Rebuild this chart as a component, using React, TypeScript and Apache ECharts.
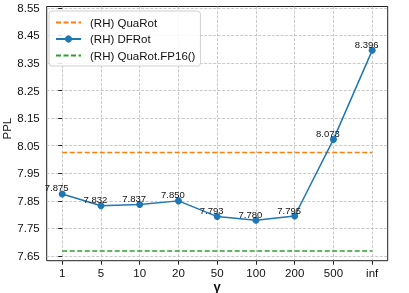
import React, { useEffect, useRef } from "react";
import * as echarts from "echarts";

const categories = ["1", "5", "10", "20", "50", "100", "200", "500", "inf"];
const dfrotValues = [7.875, 7.832, 7.837, 7.85, 7.793, 7.78, 7.795, 8.073, 8.396];
const quarotValue = 8.025;
const quarotFp16Value = 7.668;
const yTicks = [7.65, 7.75, 7.85, 7.95, 8.05, 8.15, 8.25, 8.35, 8.45, 8.55];
const yMin = 7.633;
const yMax = 8.555;
const xPad = 0.4;

const FONT = "'Liberation Sans', Arial, Helvetica, sans-serif";

export default function App() {
  const ref = useRef<HTMLDivElement>(null);
  useEffect(() => {
    if (!ref.current) return;
    const chart = echarts.init(ref.current, undefined, { renderer: "svg" });
    const xIdx = categories.map((_, i) => i);
    const gridLine = { show: true, lineStyle: { color: "#bdbdbd", type: [3, 1.5], width: 0.8 } };
    const hiddenSymbol = { color: "rgba(0,0,0,0)", borderColor: "rgba(0,0,0,0)", borderWidth: 0 };
    chart.setOption({
      animation: false,
      textStyle: { fontFamily: FONT },
      grid: {
        left: 46.7,
        right: 21.3,
        top: 6.5,
        bottom: 32.3,
        outerBoundsMode: "none",
        containLabel: false,
        show: true,
        borderColor: "#222",
        borderWidth: 1,
        backgroundColor: "transparent",
      },
      legend: {
        orient: "vertical",
        left: 49,
        top: 11,
        padding: [5.5, 5, 4.5, 6],
        itemWidth: 25,
        itemHeight: 9,
        itemGap: 4.5,
        backgroundColor: "rgba(255,255,255,0.85)",
        borderColor: "#d0d0d0",
        borderWidth: 1,
        borderRadius: 3,
        textStyle: { fontSize: 11.5, color: "#111", fontFamily: FONT, padding: [0, 0, 0, 4] },
        data: [
          { name: "(RH) QuaRot", itemStyle: hiddenSymbol },
          { name: "(RH) DFRot" },
          { name: "(RH) QuaRot.FP16()", itemStyle: hiddenSymbol },
        ],
      },
      xAxis: {
        type: "value",
        min: -xPad,
        max: categories.length - 1 + xPad,
        name: "γ",
        nameLocation: "middle",
        nameGap: 19,
        nameMoveOverlap: false,
        nameTextStyle: { fontSize: 13, fontWeight: "bold", color: "#111", fontFamily: FONT },
        axisLine: { show: false },
        axisTick: { show: true, length: 4, lineStyle: { color: "#222" }, customValues: xIdx },
        axisLabel: {
          customValues: xIdx,
          fontSize: 11.5,
          color: "#111",
          margin: 6,
          fontFamily: FONT,
          formatter: (v: number) => categories[Math.round(v)] ?? "",
        },
        splitLine: gridLine,
      },
      yAxis: {
        type: "value",
        min: yMin,
        max: yMax,
        name: "PPL",
        nameLocation: "middle",
        nameGap: 34,
        nameMoveOverlap: false,
        nameTextStyle: { fontSize: 11.5, color: "#111", fontFamily: FONT, padding: [0, 0, 0, 10] },
        axisLine: { show: false },
        axisTick: { show: true, length: 4, lineStyle: { color: "#222" }, customValues: yTicks },
        axisLabel: {
          customValues: yTicks,
          fontSize: 11.5,
          color: "#111",
          margin: 7,
          fontFamily: FONT,
          formatter: (v: number) => v.toFixed(2),
        },
        splitLine: gridLine,
      },
      series: [
        {
          name: "(RH) QuaRot",
          type: "line",
          data: xIdx.map((i) => [i, quarotValue]),
          showSymbol: false,
          symbol: "none",
          lineStyle: { color: "#ff7f0e", width: 1.5, type: [5, 2.5] },
          itemStyle: { color: "#ff7f0e" },
          z: 3,
        },
        {
          name: "(RH) DFRot",
          type: "line",
          data: dfrotValues.map((v, i) => [i, v]),
          symbol: "circle",
          symbolSize: 7,
          lineStyle: { color: "#1f77b4", width: 1.5 },
          itemStyle: { color: "#1f77b4" },
          label: {
            show: true,
            position: "inside",
            offset: [-5.5, -6],
            fontSize: 9.5,
            color: "#111",
            fontFamily: FONT,
            formatter: (p: any) => p.value[1].toFixed(3),
          },
          z: 4,
        },
        {
          name: "(RH) QuaRot.FP16()",
          type: "line",
          data: xIdx.map((i) => [i, quarotFp16Value]),
          showSymbol: false,
          symbol: "none",
          lineStyle: { color: "#2ca02c", width: 1.5, type: [5, 2.5] },
          itemStyle: { color: "#2ca02c" },
          z: 3,
        },
      ],
    });
    return () => chart.dispose();
  }, []);
  return <div ref={ref} style={{ position: "fixed", left: 0, top: 0, width: 409, height: 293 }} />;
}
